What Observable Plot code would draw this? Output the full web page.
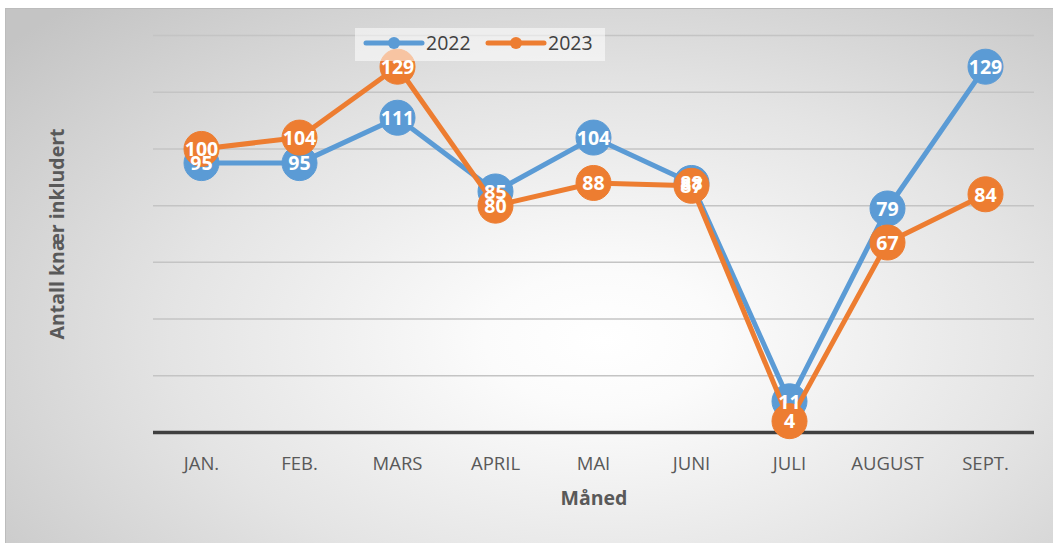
<!DOCTYPE html>
<html>
<head>
<meta charset="utf-8">
<script src="https://cdn.jsdelivr.net/npm/d3@7"></script>
<script src="https://cdn.jsdelivr.net/npm/@observablehq/plot@0.6"></script>
<style>
  html, body { margin: 0; padding: 0; background: #ffffff; }
  #wrap { position: relative; width: 1053px; height: 543px; overflow: hidden; }
  #bg { position: absolute; left: 5px; top: 8px; right: 0; bottom: 0;
        background: radial-gradient(ellipse 75% 85% at 57% 62%, #ffffff 0%, #fbfbfb 15%, #e4e4e4 55%, #c4c4c4 100%);
        border-top: 1px solid #bcbcbc; border-left: 1px solid #bcbcbc; }
  #chart { position: absolute; left: 0; top: 0; }
  #legend { position: absolute; left: 355px; top: 28px; width: 250px; height: 33px;
            background: rgba(255,255,255,0.55); }
  #legend svg { display: block; }
</style>
</head>
<body>
<div id="wrap">
  <div id="bg"></div>
  <div id="chart"></div>
  <div id="legend"></div>
</div>
<script>
const months = ["JAN.", "FEB.", "MARS", "APRIL", "MAI", "JUNI", "JULI", "AUGUST", "SEPT."];
const values2022 = [95, 95, 111, 85, 104, 88, 11, 79, 129];
const values2023 = [100, 104, 129, 80, 88, 87, 4, 67, 84];
const seriesNames = ["2022", "2023"];
const colors = ["#5B9BD5", "#ED7D31"];
const gridTicks = [20, 40, 60, 80, 100, 120, 140];

const d2022 = months.map((m, i) => ({month: m, value: values2022[i]}));
const d2023 = months.map((m, i) => ({month: m, value: values2023[i]}));

const font = "'Open Sans', Lato, sans-serif";

const chart = Plot.plot({
  width: 1053,
  height: 543,
  marginLeft: 153,
  marginRight: 19,
  marginTop: 35,
  marginBottom: 111,
  style: {background: "transparent", fontFamily: font},
  x: {type: "point", domain: months, padding: 0.5, range: [152, 1034], round: false, label: null},
  y: {domain: [0, 140], axis: null},
  marks: [
    Plot.ruleY(gridTicks, {stroke: "#c4c4c4", strokeWidth: 1.5}),
    Plot.ruleY([0], {stroke: "#404040", strokeWidth: 3.5}),
    Plot.axisX({tickSize: 0, tickPadding: 24, fontSize: 18.5, fill: "#595959", label: null}),
    Plot.line(d2022, {x: "month", y: "value", stroke: colors[0], strokeWidth: 5, strokeLinejoin: "round"}),
    Plot.dot(d2022, {x: "month", y: "value", r: 17.5, fill: colors[0], stroke: colors[0], strokeWidth: 1}),
    Plot.line(d2023, {x: "month", y: "value", stroke: colors[1], strokeWidth: 5, strokeLinejoin: "round"}),
    Plot.dot(d2023, {x: "month", y: "value", r: 17.5, fill: colors[1], stroke: colors[1], strokeWidth: 1}),
    Plot.text(d2022, {x: "month", y: "value", text: d => String(d.value), fill: "white", fontSize: 19.5, fontWeight: "bold", dy: 1}),
    Plot.text(d2023, {x: "month", y: "value", text: d => String(d.value), fill: "white", fontSize: 19.5, fontWeight: "bold", dy: 1}),
    Plot.text(["Antall knær inkludert"], {frameAnchor: "left", dx: -96, rotate: -90, fontSize: 19.5, fontWeight: "bold", fill: "#595959", textAnchor: "middle"}),
    Plot.text(["Måned"], {frameAnchor: "bottom", dy: 72, fontSize: 19.5, fontWeight: "bold", fill: "#595959"})
  ]
});
document.getElementById("chart").appendChild(chart);

// Legend
const lg = d3.select("#legend").append("svg").attr("width", 250).attr("height", 33);
const items = [{x: 11, name: seriesNames[0], c: colors[0]}, {x: 133, name: seriesNames[1], c: colors[1]}];
items.forEach(it => {
  lg.append("line").attr("x1", it.x).attr("x2", it.x + 56).attr("y1", 15).attr("y2", 15)
    .attr("stroke", it.c).attr("stroke-width", 5).attr("stroke-linecap", "round");
  lg.append("circle").attr("cx", it.x + 28).attr("cy", 15).attr("r", 6).attr("fill", it.c);
  lg.append("text").attr("x", it.x + 60).attr("y", 22).text(it.name)
    .attr("font-family", font).attr("font-size", 19.5).attr("fill", "#404040");
});
</script>
</body>
</html>
